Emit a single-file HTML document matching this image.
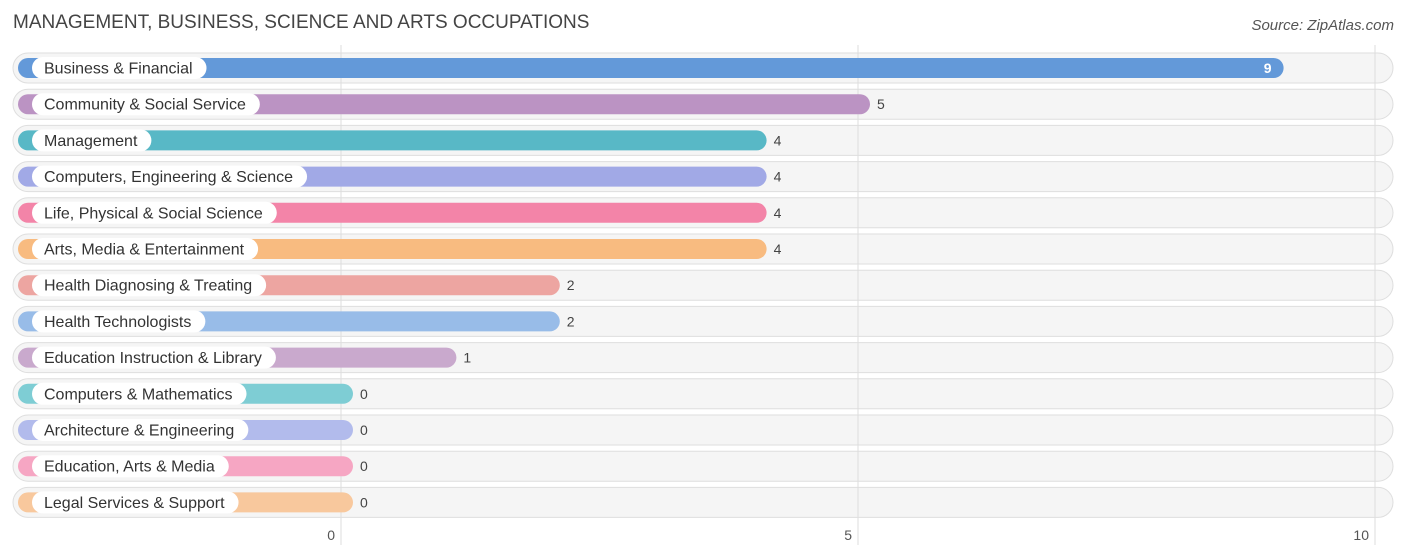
<!DOCTYPE html>
<html><head><meta charset="utf-8"><style>
body{margin:0;background:#fff;font-family:"Liberation Sans",Roboto,sans-serif}
svg{display:block}
</style></head><body>
<svg id="c" width="1406" height="559">
<text x="13" y="28" font-size="19" fill="#444">MANAGEMENT, BUSINESS, SCIENCE AND ARTS OCCUPATIONS</text>
<text x="1394" y="30" font-size="15" fill="#555" font-style="italic" text-anchor="end">Source: ZipAtlas.com</text>
<g id="rows"></g><g id="grid"></g><g id="fg"></g>
</svg>
<script>
const categories=["Business & Financial","Community & Social Service","Management","Computers, Engineering & Science","Life, Physical & Social Science","Arts, Media & Entertainment","Health Diagnosing & Treating","Health Technologists","Education Instruction & Library","Computers & Mathematics","Architecture & Engineering","Education, Arts & Media","Legal Services & Support"];
const values=[9,5,4,4,4,4,2,2,1,0,0,0,0];
const colors=["#6399d9","#bb93c3","#58b8c6","#a1a9e6","#f384a8","#f8bb80","#eda5a1","#98bce8","#c9a9cd","#7ecdd4","#b2bbec","#f6a6c3","#f8c89d"];
const ticks=[0,5,10];
const NS="http://www.w3.org/2000/svg";
const x=v=>341+v*103.4;
const rowY=i=>68+i*36.2;
function mk(tag,attrs,parent){const e=document.createElementNS(NS,tag);for(const k in attrs)e.setAttribute(k,attrs[k]);parent.appendChild(e);return e;}
const grid=document.getElementById('grid'),rows=document.getElementById('rows'),fg=document.getElementById('fg');
ticks.forEach(t=>{
  const l=mk('line',{x1:x(t),x2:x(t),y1:45,y2:545,stroke:'#ddd','stroke-width':1},grid);
  
  
  const tx=mk('text',{x:x(t)-6,y:540,'font-size':14,fill:'#555','text-anchor':'end'},grid);
  tx.textContent=t;
  
  
});
categories.forEach((c,i)=>{
  const cy=rowY(i);
  const bg=mk('rect',{x:13,y:cy-15,width:1380,height:30,rx:15,fill:'#f5f5f5',stroke:'#dedede','stroke-width':1},rows);
  
  
  const g=mk('g',{},fg);
  
  
  const end=x(values[i])+12;
  const b=mk('rect',{x:18,y:cy-10,width:end-18,height:20,rx:10,fill:colors[i]},g);
  
  
  const tmp=mk('text',{x:44,y:cy+5.5,'font-size':16,fill:'#333'},g);
  tmp.textContent=c;
  const w=tmp.getComputedTextLength();
  const pill=mk('rect',{x:32,y:cy-11,width:w+26,height:22,rx:11,fill:'#fff'},g);
  
  
  g.appendChild(tmp);
  
  
  let vt;
  if(values[i]>=8){vt=mk('text',{x:end-12,y:cy+5,'font-size':14,fill:'#fff','text-anchor':'end','font-weight':'bold'},g);}
  else{vt=mk('text',{x:end+7,y:cy+5,'font-size':14,fill:'#444'},g);}
  vt.textContent=values[i];
  
  
});
</script>
</body></html>
